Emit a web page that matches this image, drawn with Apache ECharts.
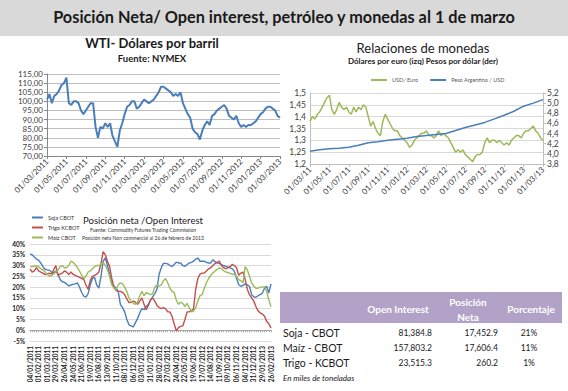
<!DOCTYPE html>
<html><head><meta charset="utf-8">
<script src="https://cdn.jsdelivr.net/npm/echarts@6/dist/echarts.min.js"></script>
<style>html,body{margin:0;padding:0;background:#fff}#c{width:568px;height:391px}</style>
</head><body><div id="c"></div>
<script>
// ---------- DATA ----------
const pageTitle = 'Posición Neta/ Open interest, petróleo y monedas al 1 de marzo';

const wtiTitle = 'WTI- Dólares por barril';
const wtiSubtitle = 'Fuente: NYMEX';
const wtiTickLabels = ['01/03/2011','01/05/2011','01/07/2011','01/09/2011','01/11/2011','01/01/2012','01/03/2012','01/05/2012','01/07/2012','01/09/2012','01/11/2012','01/01/2013','01/03/2013'];
// weekly WTI closes (4 per month), 01/03/2011 .. 01/03/2013
const wtiValues = [
 101,104,99,103, 104,106,109,110, 113,99,98,100, 100,99,95,93,
 95,97,99,99, 86,80,86,85, 88,86,88,81, 78,75,84,88,
 93,97,98,100, 100,96,97,99, 101,100,99,100, 101,103,105,108,
 108,107,106,105, 103,104,103,105, 99,96,93,91, 85,83,82,79,
 84,87,89,87, 92,93,95,96, 97,98,96,92, 91,90,92,88,
 86,87,86,87, 87,88,89,91, 93,94,96,97, 97,96,95,92,
 91
];

const fxTitle = 'Relaciones de monedas';
const fxSubtitle = 'Dólares por euro (izq) Pesos por dólar (der)';
const fxSeriesNames = ['USD/ Euro', 'Peso Argentino / USD'];
const fxTickLabels = ['01/03/11','01/05/11','01/07/11','01/09/11','01/11/11','01/01/12','01/03/12','01/05/12','01/07/12','01/09/12','01/11/12','01/01/13','01/03/13'];
// USD per Euro, 4 per month
const usdEuro = [
 1.38,1.40,1.39,1.41, 1.42,1.44,1.46,1.48, 1.49,1.43,1.41,1.43, 1.46,1.44,1.43,1.44,
 1.42,1.41,1.44,1.42, 1.44,1.43,1.45,1.44, 1.40,1.36,1.38,1.35, 1.33,1.32,1.38,1.41,
 1.39,1.37,1.35,1.34, 1.34,1.32,1.31,1.30, 1.29,1.27,1.28,1.30, 1.31,1.32,1.33,1.33,
 1.34,1.32,1.32,1.31, 1.32,1.34,1.32,1.33, 1.32,1.31,1.29,1.27, 1.25,1.26,1.25,1.26,
 1.24,1.23,1.22,1.21, 1.23,1.24,1.24,1.25, 1.29,1.31,1.29,1.30, 1.30,1.29,1.30,1.29,
 1.28,1.29,1.28,1.30, 1.31,1.32,1.32,1.31, 1.33,1.34,1.34,1.35, 1.36,1.34,1.33,1.31,
 1.30
];
// Argentine pesos per USD, monthly
const pesoUsd = [4.05,4.08,4.10,4.11,4.13,4.17,4.22,4.24,4.27,4.29,4.31,4.34,4.36,4.38,4.40,4.46,4.52,4.57,4.62,4.69,4.76,4.84,4.94,5.00,5.07];

const posTitle = 'Posición neta /Open Interest';
const posSub1 = 'Fuente: Commodity Futures Trading Commission';
const posSub2 = 'Posición neta Non commercial al 26 de febrero de 2013';
const posSeriesNames = ['Soja CBOT', 'Trigo KCBOT', 'Maíz CBOT'];
const posTickLabels = ['04/01/2011','01/02/2011','01/03/2011','29/03/2011','26/04/2011','24/05/2011','21/06/2011','19/07/2011','16/08/2011','13/09/2011','11/10/2011','08/11/2011','06/12/2011','03/01/2012','31/01/2012','28/02/2012','27/03/2012','24/04/2012','22/05/2012','19/06/2012','17/07/2012','14/08/2012','11/09/2012','09/10/2012','06/11/2012','04/12/2012','31/12/2012','29/01/2013','26/02/2013'];
// weekly net position, % of open interest
const soja = [
 35.3,35,34,33,32.5,31.2,29.5,28.3,28,27.8,
 27,26.5,27.5,26,23.5,22.5,22.2,21.5,20.5,21,
 21.3,21.5,22,20,17.5,15.8,15.4,17,21,24,
 24.5,21,19.5,25,32,33.5,30,26,21.5,20.5,
 19.5,18,12,10.5,8.5,5,2.5,2,1.5,3.5,
 5.5,8,10,9.5,11,12,14,15.5,17,19,
 26,29,31,31,30.8,30,29.6,30.5,31.6,31.2,
 31.2,30,29.6,30.5,31.2,31.5,32,33,33.5,32,
 32,32,31.5,31.2,31.2,32.7,31.8,31.2,31,30.4,
 30,29.6,29.3,28.9,28.5,27.3,24,21.1,20.4,20.8,
 21.5,21,20.4,16.5,15.5,15.3,16,16.5,17.3,19.5,
 20.4,17.3,21.5
];
const trigo = [
 28.5,27,27.5,29,27.5,27,26.5,25.8,26,26.5,
 26,28,30,25.5,26,26.5,27.5,27,25.8,27,
 26,25.5,25,24.5,24,23.5,21,19,23,25,
 25.5,26,27,31,36.5,35,32,29.5,24,20,
 18.5,18,18,17.5,16.5,14.5,12.8,13,13.5,13,
 12,13.5,15,12,9.5,11.5,14,15,13.5,11.5,
 10.5,10,10.5,10,8.5,8.5,6.5,3,-0.3,1.2,
 1.8,2,5,8.5,8.5,9,10,19,24,26,
 26.5,26.5,27.5,28.5,29,30,31,31.5,32,30,
 29,28.5,29,29.5,30.5,30,29,25.5,26.5,27,
 23.5,19,16.5,15,13.5,11,9,8,7.5,6.5,
 4,3,1
];
const maiz = [
 29.5,29.5,29.8,29.8,29.5,28.5,28,27,26,25,
 25.5,26,27,28,29.5,30,29,29,30,32,
 31.5,30.5,29,27.5,25.5,24,25,27,27.5,28.5,
 29.5,30,30,30.5,31.5,30,28,25,21,19.5,
 19,21,22,21.5,20,18,15,13.5,12.5,12,
 13,16,18,16,17.5,17,16.5,17,20,21,
 20.5,21,23,24,22,19.5,18,17.5,14,12,
 13,12.5,11,12.5,10.5,8.5,8.8,10.5,13.5,16,
 16.5,19.5,22,24,25.5,26.5,27.5,28.2,29,28.5,
 27.6,27,26.8,26.3,26,26,25,23.5,23,22,
 29.5,28,25,22,20.5,19.5,19.5,20,20,20.2,
 18,14,11
];

const tableHeaders = ['Open Interest', 'Posición\nNeta', 'Porcentaje'];
const tableRows = ['Soja - CBOT', 'Maíz - CBOT', 'Trigo - KCBOT'];
const tableOpenInterest = ['81,384.8', '157,803.2', '23,515.3'];
const tableNetPosition = ['17,452.9', '17,606.4', '260.2'];
const tablePct = ['21%', '11%', '1%'];
const tableNote = 'En miles de toneladas';

// ---------- CHART ----------
const FONT = 'Lato, "Liberation Sans", sans-serif';
const idx = n => Array.from({length: n}, (_, i) => String(i));
const wtiCats = idx(wtiValues.length);
const fxCats = idx(usdEuro.length);
const pesoCats = idx(pesoUsd.length);
const posCats = idx(soja.length);
const wtiStep = (wtiValues.length - 1) / (wtiTickLabels.length - 1);
const fxStep = (usdEuro.length - 1) / (fxTickLabels.length - 1);
const posStep = (soja.length - 1) / (posTickLabels.length - 1);

const BLUE = '#4a7ebb', RED = '#c0504d', GREEN = '#9bbb59';

function txt(x, y, text, font, fill, align) {
  return {type: 'text', x: x, y: y, silent: true,
    style: {text: text, font: font, fill: fill || '#000', textAlign: align || 'center', textVerticalAlign: 'middle'}};
}

const graphics = [
  {type: 'rect', shape: {x: 0, y: 0, width: 568, height: 36}, style: {fill: '#d9d9d9'}, z: -10, silent: true},
  txt(284, 16, pageTitle, 'bold 16.3px ' + FONT, '#1a1a1a'),
  txt(152, 43, wtiTitle, 'bold 13px ' + FONT, '#1a1a1a'),
  txt(152, 58, wtiSubtitle, 'bold 9.5px ' + FONT, '#1a1a1a'),
  txt(423, 48, fxTitle, '13px ' + FONT, '#1a1a1a'),
  txt(423, 61, fxSubtitle, 'bold 8px ' + FONT, '#1a1a1a'),
  txt(143, 220, posTitle, '9.5px ' + FONT, '#1a1a1a'),
  txt(143, 230, posSub1, '5px ' + FONT, '#333'),
  txt(143, 238, posSub2, '5px ' + FONT, '#333'),
  {type: 'rect', shape: {x: 280, y: 292, width: 282, height: 31}, style: {fill: '#b3a2c7'}, silent: true},
  txt(398, 309, tableHeaders[0], 'bold 10px ' + FONT, '#fff'),
  txt(468, 302, tableHeaders[1].split('\n')[0], 'bold 10px ' + FONT, '#fff'),
  txt(468, 317, tableHeaders[1].split('\n')[1], 'bold 10px ' + FONT, '#fff'),
  txt(531, 309, tableHeaders[2], 'bold 10px ' + FONT, '#fff'),
  txt(283, 378, tableNote, 'italic 8px ' + FONT, '#1a1a1a', 'left')
];
tableRows.forEach((r, i) => {
  const y = 332.5 + i * 15;
  graphics.push(txt(283, y, r, '10.5px ' + FONT, '#1a1a1a', 'left'));
  graphics.push(txt(432, y, tableOpenInterest[i], '8.5px ' + FONT, '#1a1a1a', 'right'));
  graphics.push(txt(498, y, tableNetPosition[i], '8.5px ' + FONT, '#1a1a1a', 'right'));
  graphics.push(txt(529, y, tablePct[i], '8.5px ' + FONT, '#1a1a1a', 'center'));
});

const chart = echarts.init(document.getElementById('c'), null, {renderer: 'svg'});
chart.setOption({
  animation: false,
  backgroundColor: '#fff',
  textStyle: {fontFamily: FONT},
  graphic: graphics,
  legend: [
    {data: fxSeriesNames, left: 366, top: 72, icon: 'rect', itemWidth: 16, itemHeight: 2, itemGap: 12,
     textStyle: {fontSize: 5.5, color: '#595959', fontFamily: FONT}},
    {data: posSeriesNames, orient: 'vertical', left: 27, top: 209, icon: 'rect', itemWidth: 11, itemHeight: 2, itemGap: 3,
     textStyle: {fontSize: 5.5, color: '#333', fontFamily: FONT, lineHeight: 7}}
  ],
  grid: [
    {left: 47, top: 74, width: 233, height: 82, outerBoundsMode: 'none'},
    {left: 310, top: 93, width: 233, height: 71, outerBoundsMode: 'none'},
    {left: 30, top: 244, width: 241, height: 97, outerBoundsMode: 'none'}
  ],
  xAxis: [
    {gridIndex: 0, type: 'category', data: wtiCats, boundaryGap: false,
     axisLine: {lineStyle: {color: '#868686'}},
     axisTick: {interval: (i) => i % wtiStep === 0, length: 3, lineStyle: {color: '#868686'}},
     axisLabel: {interval: (i) => i % wtiStep === 0, formatter: (v, i) => wtiTickLabels[i / wtiStep],
       rotate: 45, fontSize: 8, color: '#404040', margin: 4}},
    {gridIndex: 1, type: 'category', data: fxCats, boundaryGap: false,
     axisLine: {lineStyle: {color: '#bfbfbf'}},
     axisTick: {interval: (i) => i % fxStep === 0, length: 3, lineStyle: {color: '#bfbfbf'}},
     axisLabel: {interval: (i) => i % fxStep === 0, formatter: (v, i) => fxTickLabels[i / fxStep],
       rotate: 45, fontSize: 8, color: '#404040', margin: 4}},
    {gridIndex: 1, type: 'category', data: pesoCats, boundaryGap: false, show: false},
    {gridIndex: 2, type: 'category', data: posCats, boundaryGap: false, position: 'bottom',
     axisLine: {show: false, onZero: false}, axisTick: {show: false},
     axisLabel: {interval: (i) => i % posStep === 0, formatter: (v, i) => posTickLabels[i / posStep],
       rotate: 90, fontSize: 6.5, fontWeight: 'bold', color: '#222', margin: 5}},
    {gridIndex: 2, type: 'category', data: posCats, boundaryGap: false, position: 'bottom',
     axisLine: {show: true, onZero: true, lineStyle: {color: '#a6a6a6'}},
     axisTick: {show: true, interval: 0, length: 2, lineStyle: {color: '#a6a6a6'}},
     axisLabel: {show: false}}
  ],
  yAxis: [
    {gridIndex: 0, type: 'value', min: 70, max: 115, interval: 5,
     axisLine: {show: true, lineStyle: {color: '#868686'}},
     axisTick: {show: true, length: 3, lineStyle: {color: '#868686'}},
     splitLine: {lineStyle: {color: '#bfbfbf'}},
     axisLabel: {formatter: v => v.toFixed(2).replace('.', ','), fontSize: 8, color: '#404040', margin: 4}},
    {gridIndex: 1, type: 'value', min: 1.2, max: 1.5, interval: 0.05,
     axisLine: {show: true, lineStyle: {color: '#bfbfbf'}},
     axisTick: {show: false},
     splitLine: {lineStyle: {color: '#d9d9d9'}},
     axisLabel: {formatter: v => String(Math.round(v * 100) / 100).replace('.', ','), fontSize: 8.5, color: '#404040', margin: 4}},
    {gridIndex: 1, type: 'value', position: 'right', min: 3.8, max: 5.2, interval: 0.2,
     axisLine: {show: true, lineStyle: {color: '#bfbfbf'}},
     axisTick: {show: true, length: 3, lineStyle: {color: '#bfbfbf'}},
     splitLine: {show: false},
     axisLabel: {formatter: v => v.toFixed(1).replace('.', ','), fontSize: 8.5, color: '#404040', margin: 4}},
    {gridIndex: 2, type: 'value', min: -5, max: 40, interval: 5,
     axisLine: {show: false}, axisTick: {show: false},
     splitLine: {lineStyle: {color: '#d9d9d9'}},
     axisLabel: {formatter: v => v + '%', fontSize: 6.5, fontWeight: 'bold', color: '#222', margin: 5}}
  ],
  series: [
    {name: 'WTI', type: 'line', xAxisIndex: 0, yAxisIndex: 0, data: wtiValues, symbol: 'none',
     lineStyle: {color: BLUE, width: 2}},
    {name: fxSeriesNames[0], type: 'line', xAxisIndex: 1, yAxisIndex: 1, data: usdEuro, symbol: 'none',
     itemStyle: {color: GREEN}, lineStyle: {color: GREEN, width: 1.5}},
    {name: fxSeriesNames[1], type: 'line', xAxisIndex: 2, yAxisIndex: 2, data: pesoUsd, symbol: 'none',
     itemStyle: {color: BLUE}, lineStyle: {color: BLUE, width: 1.5}},
    {name: posSeriesNames[0], type: 'line', xAxisIndex: 3, yAxisIndex: 3, data: soja, symbol: 'none',
     itemStyle: {color: BLUE}, lineStyle: {color: BLUE, width: 1.4}},
    {name: posSeriesNames[1], type: 'line', xAxisIndex: 3, yAxisIndex: 3, data: trigo, symbol: 'none',
     itemStyle: {color: RED}, lineStyle: {color: RED, width: 1.4}},
    {name: posSeriesNames[2], type: 'line', xAxisIndex: 3, yAxisIndex: 3, data: maiz, symbol: 'none',
     itemStyle: {color: GREEN}, lineStyle: {color: GREEN, width: 1.4}}
  ]
});
</script>
</body></html>
